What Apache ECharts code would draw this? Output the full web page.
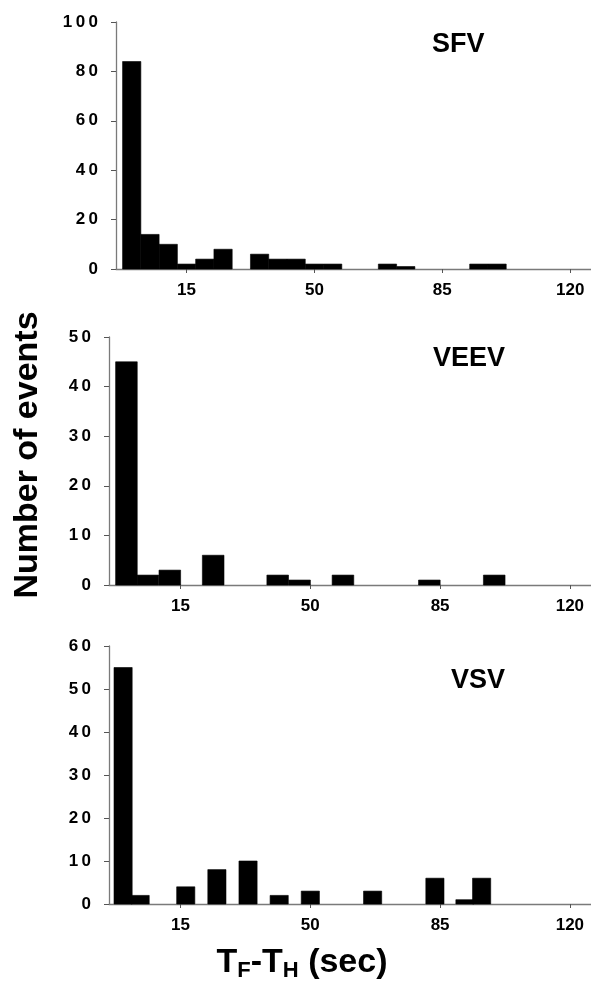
<!DOCTYPE html>
<html>
<head>
<meta charset="utf-8">
<script src="https://cdn.jsdelivr.net/npm/echarts@6/dist/echarts.min.js"></script>
<style>
html,body{margin:0;padding:0;background:#fff;}
#chart{width:591px;height:993px;}
</style>
</head>
<body>
<div id="chart"></div>
<script>
// ---- data (bin centre in seconds, number of events) ----
var sfvX  = [0, 5, 10, 15, 20, 25, 35, 40, 45, 50, 55, 70, 75, 95, 100];
var sfvN  = [84, 14, 10, 2, 4, 8, 6, 4, 4, 2, 2, 2, 1, 2, 2];
var veevX = [0.4, 6.2, 12.1, 23.8, 41.2, 47.1, 58.8, 82.1, 99.6];
var veevN = [45, 2, 3, 6, 2, 1, 2, 1, 2];
var vsvX  = [-0.5, 4.1, 16.4, 24.8, 33.2, 41.6, 50, 66.8, 83.6, 91.7, 96.2];
var vsvN  = [55, 2, 4, 8, 10, 2, 3, 3, 6, 1, 6];
var binW  = [5, 35 / 6, 4.9];
var panelNames = ['SFV', 'VEEV', 'VSV'];
var xTicks = [15, 50, 85, 120];
var yMax = [100, 50, 60];
var yStep = [20, 10, 10];
var yTitle = 'Number of events';

var FONT = '"Liberation Sans", Arial, sans-serif';
var grids = [
  {left: 116, top: 22, height: 247},
  {left: 109, top: 337, height: 248},
  {left: 109, top: 646, height: 258}
];
var titleTops = [31, 345, 667];
var titleLefts = [432, 433, 451];

function pairs(xs, ys) { return xs.map(function (x, i) { return [x, ys[i]]; }); }
var datasets = [pairs(sfvX, sfvN), pairs(veevX, veevN), pairs(vsvX, vsvN)];

function spaced(v) { return String(v).split('').join('\u2009'); }

var option = {
  backgroundColor: '#fff',
  animation: false,
  title: panelNames.map(function (n, i) {
    return {text: n, left: titleLefts[i], top: titleTops[i], padding: 0,
      textStyle: {fontFamily: FONT, fontWeight: 'bold', fontSize: 27, color: '#000'}};
  }),
  grid: grids.map(function (g) {
    return {left: g.left, top: g.top, height: g.height, right: 0, containLabel: false, outerBoundsMode: 'none'};
  }),
  xAxis: grids.map(function (g, i) {
    return {
      type: 'value', gridIndex: i, min: -4.3, max: 125.7,
      splitLine: {show: false},
      axisLine: {show: true, onZero: false, lineStyle: {color: '#7a7a7a', width: 1.3}},
      axisTick: {show: true, customValues: xTicks, length: 4, lineStyle: {color: '#555', width: 1}},
      axisLabel: {customValues: xTicks, margin: 13, fontFamily: FONT, fontWeight: 'bold', fontSize: 17, color: '#000'}
    };
  }),
  yAxis: grids.map(function (g, i) {
    return {
      type: 'value', gridIndex: i, min: 0, max: yMax[i], interval: yStep[i],
      splitLine: {show: false},
      axisLine: {show: true, onZero: false, lineStyle: {color: '#7a7a7a', width: 1.3}},
      axisTick: {show: true, length: 5, lineStyle: {color: '#555', width: 1}},
      axisLabel: {margin: 18, fontFamily: FONT, fontWeight: 'bold', fontSize: 17, color: '#000',
        formatter: function (v) { return spaced(v); }}
    };
  }),
  series: datasets.map(function (d, i) {
    return {
      type: 'custom', xAxisIndex: i, yAxisIndex: i, data: d,
      encode: {x: 0, y: 1},
      renderItem: function (params, api) {
        var x = api.value(0), y = api.value(1), w = binW[i];
        var p0 = api.coord([x - w / 2, y]);
        var p1 = api.coord([x + w / 2, 0]);
        return {type: 'rect', shape: {x: p0[0], y: p0[1], width: p1[0] - p0[0], height: p1[1] - p0[1]},
          style: {fill: '#000', stroke: '#000', lineWidth: 0.6}};
      }
    };
  }),
  graphic: [
    {type: 'text', x: 28, y: 455, rotation: Math.PI / 2,
      style: {text: yTitle, font: 'bold 34px ' + FONT, fill: '#000', align: 'center', verticalAlign: 'middle'}},
    {type: 'text', x: 302, y: 963,
      style: {
        text: '{m|T}{s|F}{m|-T}{s|H}{m| (sec)}',
        rich: {
          m: {font: 'bold 34px ' + FONT, fill: '#000'},
          s: {font: 'bold 22px ' + FONT, fill: '#000', padding: [16, 0, 0, 0]}
        },
        align: 'center', verticalAlign: 'middle'
      }}
  ]
};

var chart = echarts.init(document.getElementById('chart'), null, {renderer: 'canvas'});
chart.setOption(option);
</script>
</body>
</html>
